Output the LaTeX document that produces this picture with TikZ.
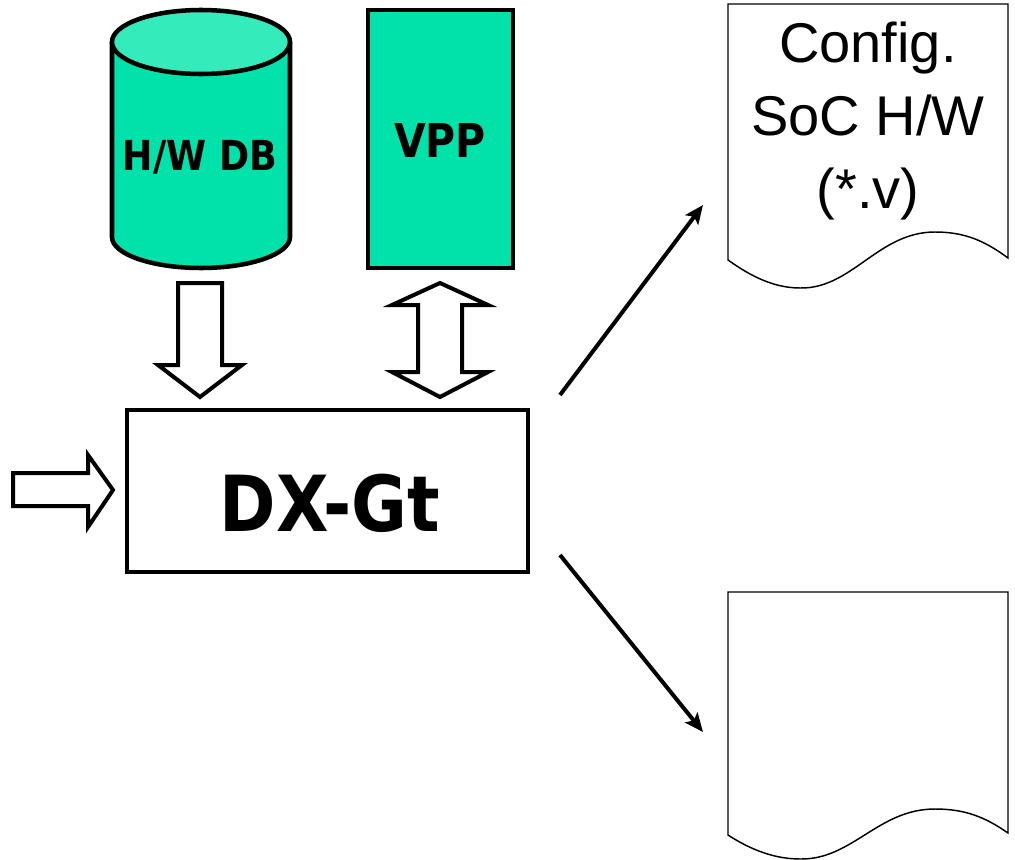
\documentclass[tikz,border=0pt]{standalone}
\usepackage{fontspec}
\newfontfamily\vb{DejaVu Sans}[FakeStretch=0.88]
\newfontfamily\ar{Liberation Sans}
\usetikzlibrary{arrows.meta}
\definecolor{dbgreen}{RGB}{0,226,170}
\definecolor{dbtop}{RGB}{52,235,188}
\tikzset{
  hollow/.style={draw=black, fill=white, line width=3pt, line join=miter},
  flow/.style={line width=3pt, -{Stealth[length=14pt,width=12pt,inset=3pt]}},
  docshape/.style={draw=black, fill=white, line width=1.1pt},
  boldlbl/.style={font=\vb\bfseries, inner sep=0pt, anchor=center},
}
\begin{document}
\begin{tikzpicture}[x=0.75pt,y=-0.75pt]
\useasboundingbox (0,0) rectangle (1015,860);
% cylinder H/W DB
\fill[dbgreen] (112,42) -- (112,237) arc[start angle=180, end angle=0, x radius=89, y radius=31] -- (290,42) -- cycle;
\draw[line width=3.4pt] (112,42) -- (112,237) arc[start angle=180, end angle=0, x radius=89, y radius=31] -- (290,42);
\draw[line width=3.4pt, fill=dbtop] (201,42) ellipse[x radius=89, y radius=32];
\node[boldlbl, font=\vb\bfseries\fontsize{31pt}{36pt}\selectfont] (db) at (200,157) {H/W DB};
% VPP
\node[draw, line width=3pt, fill=dbgreen, minimum width=108.75pt, minimum height=193.5pt, inner sep=0pt] (vppbox) at (440.5,139) {};
\node[boldlbl, font=\vb\bfseries\fontsize{35pt}{40pt}\selectfont] (vpp) at (440,140) {VPP};
% hollow down arrow
\draw[hollow] (178,283) -- (222,283) -- (222,365) -- (242,365) -- (200,397) -- (158,365) -- (178,365) -- cycle;
% hollow double arrow
\draw[hollow] (440,283) -- (488,305) -- (462,305) -- (462,372) -- (488,372) -- (440,397) -- (392,372) -- (418,372) -- (418,305) -- (392,305) -- cycle;
% left input arrow
\draw[hollow] (13,473) -- (88,473) -- (88,455) -- (113,490) -- (88,527) -- (88,506) -- (13,506) -- cycle;
% DX-Gt box
\node[draw, line width=2.3pt, minimum width=300.75pt, minimum height=121.5pt, inner sep=0pt] (dx) at (327.5,491) {};
\node[boldlbl, font=\vb\bfseries\fontsize{58pt}{64pt}\selectfont] (dxt) at (330,503) {DX-Gt};
% documents
\draw[docshape] (728,4) -- (1008,4) -- (1008,258)
  .. controls (985,241) and (965,232) .. (935,232)
  .. controls (878,232) and (852,289) .. (800,288)
  .. controls (770,288) and (745,272) .. (728,260) -- cycle;
\node[font=\ar\fontsize{42pt}{55pt}\selectfont, align=center, inner sep=0pt] (doc1) at (868,121) {Config.\\SoC H/W\\(*.v)};
\draw[docshape] (728,592) -- (1008,592) -- (1008,833)
  .. controls (985,817) and (965,809) .. (935,809)
  .. controls (878,809) and (852,860) .. (800,859)
  .. controls (770,859) and (745,846) .. (728,835) -- cycle;
\coordinate (doc2) at (868,720);
% output arrows
\coordinate (outA) at (560,395);
\coordinate (inA) at (703,205);
\coordinate (outB) at (560,555);
\coordinate (inB) at (703,732);
\draw[flow] (outA) -- (inA);
\draw[flow] (outB) -- (inB);
\end{tikzpicture}
\end{document}
